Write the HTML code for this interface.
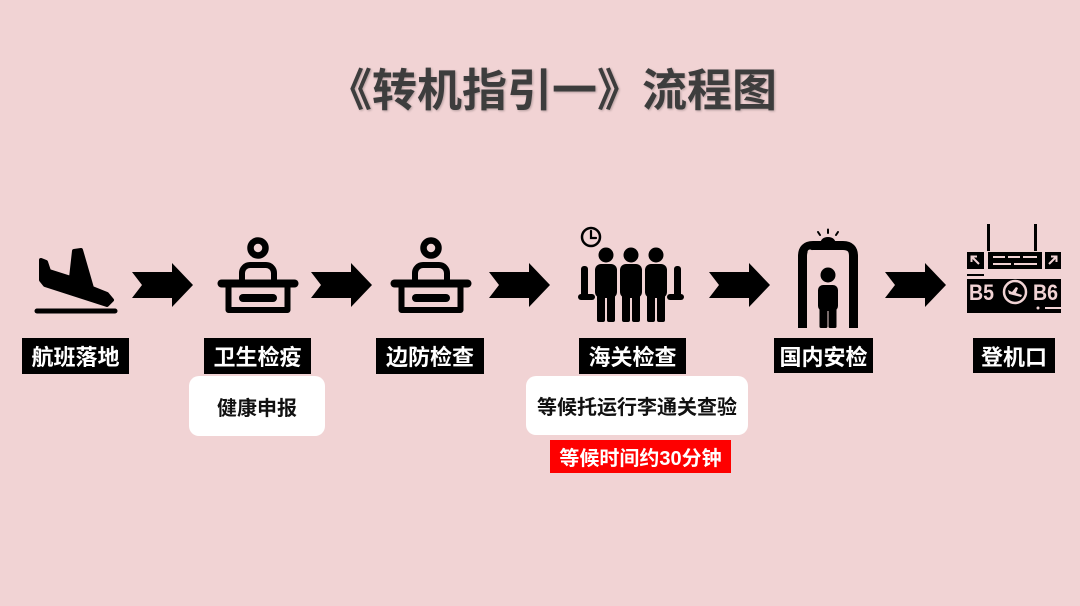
<!DOCTYPE html>
<html><head><meta charset="utf-8">
<style>
html,body{margin:0;padding:0;}
body{width:1080px;height:606px;background:#f1d3d4;position:relative;overflow:hidden;font-family:"Liberation Sans","Noto Sans CJK SC",sans-serif;}
.title{position:absolute;left:327px;top:68px;font-size:45px;line-height:45px;font-weight:700;color:#3d3d3d;white-space:nowrap;text-shadow:1px 1px 2px rgba(0,0,0,0.25);font-family:"Liberation Sans","Noto Sans CJK SC",sans-serif;}
.lab{position:absolute;background:#000;color:#fff;font-weight:700;font-size:22px;display:flex;align-items:center;justify-content:center;white-space:nowrap;height:36px;top:338px;}
.wb{position:absolute;background:#fff;border-radius:10px;color:#111;font-weight:700;font-size:20px;display:flex;align-items:center;justify-content:center;white-space:nowrap;}
.rb{position:absolute;background:#fe0000;color:#fff;font-weight:700;font-size:20px;display:flex;align-items:center;justify-content:center;white-space:nowrap;}
svg{position:absolute;left:0;top:0;}
</style></head>
<body>
<div class="title">《转机指引一》流程图</div>

<svg width="1080" height="606" viewBox="0 0 1080 606">
  <!-- arrows -->
  <g fill="#000">
    <polygon points="132,272 172,272 172,263 193,285 172,307 172,298 132,298 142,285"/>
    <polygon points="311,272 351,272 351,263 372,285 351,307 351,298 311,298 321,285"/>
    <polygon points="489,272 529,272 529,263 550,285 529,307 529,298 489,298 499,285"/>
    <polygon points="709,272 749,272 749,263 770,285 749,307 749,298 709,298 719,285"/>
    <polygon points="885,272 925,272 925,263 946,285 925,307 925,298 885,298 895,285"/>
  </g>

  <!-- plane landing -->
  <g fill="#000" stroke="#000" stroke-linejoin="round" stroke-linecap="round">
    <line x1="37" y1="311" x2="115" y2="311" stroke-width="5"/>
    <polygon stroke-width="4" points="41,260 46,262 49,271 71,278 74,251 81,250 92,288 107,294 112,300 107,305 45,285 41,280"/>
  </g>

  <!-- desk icons -->
  <g fill="none" stroke="#000" stroke-linecap="round" stroke-linejoin="round">
    <g transform="translate(258,0)">
      <circle cx="0" cy="248" r="7.5" stroke-width="6.5"/>
      <path d="M-16,283 V273 a8,8 0 0 1 8,-8 H8 a8,8 0 0 1 8,8 V283" stroke-width="6"/>
      <line x1="-36.5" y1="283.5" x2="36.5" y2="283.5" stroke-width="8"/>
      <path d="M-29.5,284 V310 H29.5 V284" stroke-width="6"/>
      <rect x="-19" y="294" width="38" height="8" rx="4" fill="#000" stroke="none"/>
    </g>
    <g transform="translate(431,0)">
      <circle cx="0" cy="248" r="7.5" stroke-width="6.5"/>
      <path d="M-16,283 V273 a8,8 0 0 1 8,-8 H8 a8,8 0 0 1 8,8 V283" stroke-width="6"/>
      <line x1="-36.5" y1="283.5" x2="36.5" y2="283.5" stroke-width="8"/>
      <path d="M-29.5,284 V310 H29.5 V284" stroke-width="6"/>
      <rect x="-19" y="294" width="38" height="8" rx="4" fill="#000" stroke="none"/>
    </g>
  </g>

  <!-- customs people -->
  <g>
    <circle cx="591" cy="237" r="9" fill="none" stroke="#000" stroke-width="2.5"/>
    <path d="M591,231 V238 H596" fill="none" stroke="#000" stroke-width="2.2" stroke-linecap="round"/>
    <g fill="#000">
      <circle cx="606" cy="255" r="7.5"/>
      <circle cx="631" cy="255" r="7.5"/>
      <circle cx="656" cy="255" r="7.5"/>
      <rect x="595" y="264" width="22" height="34" rx="6"/>
      <rect x="620" y="264" width="22" height="34" rx="6"/>
      <rect x="645" y="264" width="22" height="34" rx="6"/>
      <rect x="597" y="290" width="8" height="32" rx="2"/>
      <rect x="607" y="290" width="8" height="32" rx="2"/>
      <rect x="622" y="290" width="8" height="32" rx="2"/>
      <rect x="632" y="290" width="8" height="32" rx="2"/>
      <rect x="647" y="290" width="8" height="32" rx="2"/>
      <rect x="657" y="290" width="8" height="32" rx="2"/>
      <rect x="581" y="266" width="7" height="34" rx="3"/>
      <rect x="578" y="294" width="17" height="6" rx="3"/>
      <rect x="674" y="266" width="7" height="34" rx="3"/>
      <rect x="667" y="294" width="17" height="6" rx="3"/>
    </g>
    <g stroke="#f1d3d4" stroke-width="1.2">
      <line x1="618.5" y1="266" x2="618.5" y2="296"/>
      <line x1="643.5" y1="266" x2="643.5" y2="296"/>
    </g>
  </g>

  <!-- security gate -->
  <g>
    <path d="M802.5,328 V256 Q802.5,245.5 813,245.5 H843 Q853.5,245.5 853.5,256 V328" fill="none" stroke="#000" stroke-width="9"/>
    <path d="M820,244 Q821,237 828,237 Q835,237 836,244 Z" fill="#000"/>
    <g stroke="#000" stroke-width="2" stroke-linecap="round">
      <line x1="820" y1="235" x2="818" y2="232"/>
      <line x1="828" y1="233" x2="828" y2="229.5"/>
      <line x1="836" y1="235" x2="838" y2="232"/>
    </g>
    <circle cx="810" cy="252" r="2.5" fill="#f1d3d4"/>
    <circle cx="828" cy="275" r="7.5" fill="#000"/>
    <rect x="818" y="285" width="20" height="26" rx="5" fill="#000"/>
    <rect x="819.5" y="303" width="8" height="25" rx="1.5" fill="#000"/>
    <rect x="828.5" y="303" width="8" height="25" rx="1.5" fill="#000"/>
  </g>

  <!-- departure board -->
  <g>
    <rect x="987" y="224" width="3" height="27" fill="#000"/>
    <rect x="1034" y="224" width="3" height="27" fill="#000"/>
    <rect x="967" y="252" width="17" height="17" fill="#000"/>
    <rect x="988" y="252" width="54" height="17" fill="#000"/>
    <rect x="1045" y="252" width="16" height="17" fill="#000"/>
    <g stroke="#f1d3d4" stroke-width="2" fill="none">
      <line x1="979" y1="264" x2="972" y2="257"/>
      <polyline points="971.5,262 971.5,256.5 977,256.5"/>
      <line x1="1049" y1="264" x2="1056" y2="257"/>
      <polyline points="1051,256.5 1056.5,256.5 1056.5,262"/>
      <line x1="993" y1="257" x2="1005" y2="257"/>
      <line x1="1008" y1="257" x2="1020" y2="257"/>
      <line x1="1023" y1="257" x2="1037" y2="257"/>
      <line x1="993" y1="264" x2="1011" y2="264"/>
      <line x1="1014" y1="264" x2="1037" y2="264"/>
    </g>
    <rect x="967" y="274" width="17" height="2" fill="#000"/>
    <rect x="967" y="279" width="94" height="34" fill="#000"/>
    <rect x="1045" y="307" width="16" height="2" fill="#f1d3d4"/>
    <circle cx="1038" cy="308" r="1.5" fill="#f1d3d4"/>
    <text x="969" y="300" font-family="Liberation Sans, sans-serif" font-weight="700" font-size="22" fill="#f1d3d4" textLength="25" lengthAdjust="spacingAndGlyphs">B5</text>
    <text x="1033" y="300" font-family="Liberation Sans, sans-serif" font-weight="700" font-size="22" fill="#f1d3d4" textLength="25" lengthAdjust="spacingAndGlyphs">B6</text>
    <circle cx="1015" cy="292" r="11" fill="#000" stroke="#f1d3d4" stroke-width="2.5"/>
    <path d="M1008,290 L1012,292 L1016,287 L1018,288 L1016,293 L1022,295 L1021,297 L1009,294 Z" fill="#f1d3d4"/>
  </g>
</svg>

<div class="lab" style="left:22px;width:107px;">航班落地</div>
<div class="lab" style="left:204px;width:107px;">卫生检疫</div>
<div class="lab" style="left:376px;width:108px;">边防检查</div>
<div class="lab" style="left:579px;width:107px;">海关检查</div>
<div class="lab" style="left:774px;width:99px;height:35px;">国内安检</div>
<div class="lab" style="left:973px;width:82px;height:35px;">登机口</div>

<div class="wb" style="left:189px;top:376px;width:136px;height:60px;">健康申报</div>
<div class="wb" style="left:526px;top:376px;width:222px;height:59px;">等候托运行李通关查验</div>
<div class="rb" style="left:550px;top:440px;width:181px;height:33px;">等候时间约30分钟</div>
</body></html>
